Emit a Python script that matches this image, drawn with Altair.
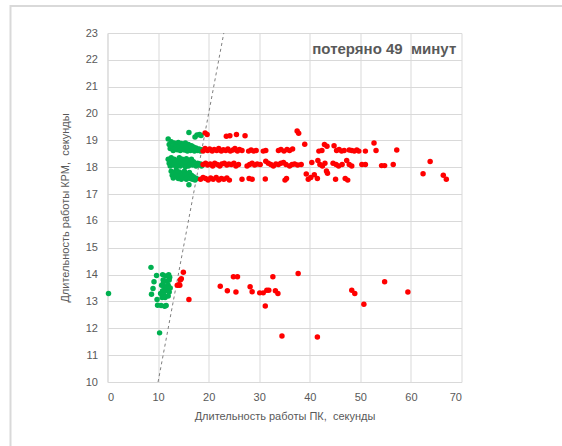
import altair as alt
import pandas as pd

# --- data ---
green_hi_x = [12.0,12.2,12.4,12.6,12.8,13.0,13.2,13.4,13.6,13.8,14.0,14.2,14.4,14.6,14.8,15.0,15.2,15.4,15.6,15.8,16.0,16.2,16.4,16.6,16.8,17.0,17.2,17.5,17.8,18.1,18.4,18.6,
              16.1,17.3,17.7,18.2,18.5,
              12.0,12.2,12.4,12.6,12.8,13.0,13.2,13.4,13.6,13.8,14.0,14.2,14.4,14.6,14.8,15.0,15.2,15.4,15.6,15.8,16.0,16.2,16.4,16.6,16.8,17.0,17.2,17.5,17.8,18.1,18.4,18.6,
              12.6,12.8,13.0,13.2,13.4,13.6,13.8,14.0,14.2,14.4,14.6,14.8,15.0,15.2,15.4,15.6,15.8,16.0,16.2,16.4,16.6,16.8,17.0,17.3,17.6,16.1]
green_hi_y = [19.05,18.85,18.7,18.95,18.75,18.62,18.9,18.72,18.85,18.65,18.92,18.78,18.62,18.88,18.7,18.82,18.64,18.9,18.74,18.6,18.85,18.7,18.62,18.8,18.66,18.75,18.6,18.72,18.62,18.68,18.6,18.65,
              19.29,19.13,19.2,19.22,19.18,
              18.3,18.15,18.05,18.35,18.2,18.08,18.3,18.15,18.02,18.25,18.12,18.35,18.05,18.2,18.3,18.1,18.22,18.02,18.32,18.15,18.05,18.25,18.12,18.3,18.08,18.2,18.12,18.05,18.15,18.1,18.12,18.05,
              17.85,17.7,17.6,17.8,17.65,17.9,17.72,17.58,17.82,17.68,17.55,17.78,17.62,17.85,17.7,17.55,17.75,17.62,17.8,17.58,17.7,17.55,17.65,17.52,17.58,17.35]

green_lo_x = [0.2,8.6,9.2,9.0,8.7,9.7,9.8,9.9,10.3,
              10.9,11.5,12.1,12.3,11.0,11.8,10.7,11.3,12.0,10.9,11.5,12.2,10.5,11.1,11.7,12.4,10.8,11.4,12.0,10.6,11.3,11.6,11.0,12.2]
green_lo_y = [13.3,14.27,13.73,13.48,13.27,13.97,13.07,12.86,11.83,
              14.0,13.95,14.0,13.9,13.8,13.75,13.6,13.55,13.6,13.4,13.4,13.35,13.3,13.25,13.5,13.5,13.15,13.15,13.2,12.85,12.82,12.85,13.65,13.8]

red_hi_x = [19.3,19.7,23.5,24.2,25.5,27.2,37.5,37.8,
            18.9,19.3,19.8,20.2,20.7,21.1,21.6,22.0,22.5,22.9,23.4,23.8,24.3,24.8,25.2,25.7,26.1,26.6,27.9,28.4,28.9,29.4,30.8,31.3,33.8,34.3,34.9,35.5,36.0,36.6,39.0,41.8,42.4,42.9,43.4,44.8,45.3,45.8,46.3,46.8,47.8,48.3,48.8,49.3,49.7,51.0,52.7,53.1,57.2,
            18.9,19.4,19.8,20.3,20.8,21.2,21.7,22.2,22.6,23.1,23.6,24.0,24.5,25.0,25.4,25.9,27.6,28.1,28.6,29.1,29.6,30.2,31.3,31.8,32.3,32.8,33.3,33.8,34.3,34.8,35.3,36.0,36.5,37.0,37.6,38.3,40.4,41.6,42.0,42.5,43.0,44.6,45.2,45.7,46.4,47.3,47.8,48.3,50.3,51.0,54.2,54.8,56.5,63.8,
            18.4,18.9,19.4,19.9,20.4,20.9,21.5,22.0,22.5,23.0,23.6,24.1,26.6,28.0,28.6,31.2,35.1,35.4,39.3,39.7,40.2,40.9,41.5,43.3,43.5,45.1,47.0,47.5,62.4,66.4,67.0]
red_hi_y = [19.28,19.22,19.15,19.17,19.22,19.17,19.35,19.27,
            18.6,18.7,18.62,18.68,18.6,18.66,18.62,18.7,18.6,18.65,18.62,18.68,18.6,18.64,18.7,18.6,18.66,18.62,18.6,18.64,18.6,18.62,18.6,18.62,18.62,18.66,18.6,18.66,18.62,18.68,18.86,18.6,18.62,18.85,18.78,18.8,18.62,18.66,18.6,18.62,18.64,18.62,18.6,18.64,18.6,18.6,18.9,18.62,18.64,
            18.1,18.15,18.08,18.12,18.05,18.15,18.1,18.05,18.12,18.15,18.08,18.12,18.1,18.15,18.05,18.1,18.05,18.1,18.15,18.08,18.12,18.1,18.22,18.15,18.1,18.05,18.12,18.1,18.15,18.18,18.1,18.05,18.1,18.12,18.08,18.1,18.18,18.25,18.1,18.05,18.15,18.15,18.1,18.05,18.1,18.25,18.1,18.05,18.1,18.1,18.06,18.06,18.1,18.21,
            17.55,17.62,17.58,17.52,17.6,17.55,17.62,17.52,17.58,17.55,17.6,17.52,17.55,17.58,17.55,17.56,17.52,17.58,17.75,17.55,17.62,17.72,17.58,17.86,17.78,17.55,17.58,17.52,17.76,17.7,17.55]

red_lo_x = [13.8,14.1,14.3,14.4,14.6,15.0,16.1,22.3,23.7,24.9,25.7,25.4,28.2,28.6,30.1,30.8,31.2,31.5,31.9,32.7,33.2,33.7,34.5,37.7,41.5,48.3,48.9,50.7,54.8,59.4]
red_lo_y = [13.6,13.62,13.6,13.8,13.85,14.09,13.07,13.57,13.4,13.92,13.92,13.35,13.55,13.36,13.32,13.32,12.83,13.42,13.42,13.92,13.4,13.3,11.71,14.04,11.68,13.42,13.3,12.9,13.73,13.35]

line_x = [10, 23]
line_y = [10, 23]

x_ticks = [0, 10, 20, 30, 40, 50, 60, 70]
y_ticks = list(range(10, 24))

note_text = "потеряно 49\u00a0 минут"
note_x = [40.5]
note_y = [22.42]

x_title = "Длительность работы ПК,\u00a0 секунды"
y_title = "Длительность работы КРМ,\u00a0 секунды"

# --- tables ---
pts = pd.concat([
    pd.DataFrame({"x": green_hi_x, "y": green_hi_y, "g": "green"}),
    pd.DataFrame({"x": green_lo_x, "y": green_lo_y, "g": "green"}),
    pd.DataFrame({"x": red_hi_x, "y": red_hi_y, "g": "red"}),
    pd.DataFrame({"x": red_lo_x, "y": red_lo_y, "g": "red"}),
], ignore_index=True)
line_df = pd.DataFrame({"x": line_x, "y": line_y})
note_df = pd.DataFrame({"x": note_x, "y": note_y, "t": [note_text]})

FONT = "Liberation Sans"
GRAY = "#595959"

xs = alt.Scale(domain=[0, 70], nice=False)
ys = alt.Scale(domain=[10, 23], nice=False, zero=False)

xax = alt.Axis(values=x_ticks, title=x_title, grid=True, ticks=False, labelPadding=9, titlePadding=8, labelOverlap=False)
yax = alt.Axis(values=y_ticks, title=y_title, grid=True, ticks=False, labelPadding=10, titlePadding=15, labelOverlap=False)

one = pd.DataFrame({"a": [0]})
frame_top = alt.Chart(one).mark_rule(color="#d9d9d9", strokeWidth=2).encode(
    x=alt.value(-97), x2=alt.value(480), y=alt.value(-27))
frame_left = alt.Chart(one).mark_rule(color="#d9d9d9", strokeWidth=2).encode(
    x=alt.value(-97), y=alt.value(-28), y2=alt.value(440))

ref = alt.Chart(line_df).mark_line(color="#7f7f7f", strokeDash=[3, 3], strokeWidth=1).encode(
    x=alt.X("x:Q", scale=xs, axis=xax), y=alt.Y("y:Q", scale=ys, axis=yax)
)

dots = alt.Chart(pts).mark_circle(size=30, opacity=1).encode(
    x=alt.X("x:Q", scale=xs, axis=xax),
    y=alt.Y("y:Q", scale=ys, axis=yax),
    color=alt.Color("g:N", scale=alt.Scale(domain=["green", "red"], range=["#00B050", "#FF0000"]), legend=None),
)

note = alt.Chart(note_df).mark_text(
    align="left", baseline="middle", fontSize=15, fontWeight="bold", font=FONT, color=GRAY
).encode(x=alt.X("x:Q", scale=xs, axis=xax), y=alt.Y("y:Q", scale=ys, axis=yax), text="t:N")

chart = alt.layer(frame_top, frame_left, ref, dots, note).properties(
    width=354, height=349,
    autosize=alt.AutoSizeParams(type="none"),
    padding={"left": 107.5, "top": 33, "right": 100, "bottom": 64},
    background="white",
).configure_view(stroke=None).configure_axis(
    gridColor="#d9d9d9", domainColor="#d9d9d9", labelColor=GRAY, titleColor=GRAY,
    labelFont=FONT, titleFont=FONT, labelFontSize=11, titleFontSize=11, titleFontWeight="normal",
)

chart.save("out.html", embed_options={"renderer": "svg", "actions": False})
